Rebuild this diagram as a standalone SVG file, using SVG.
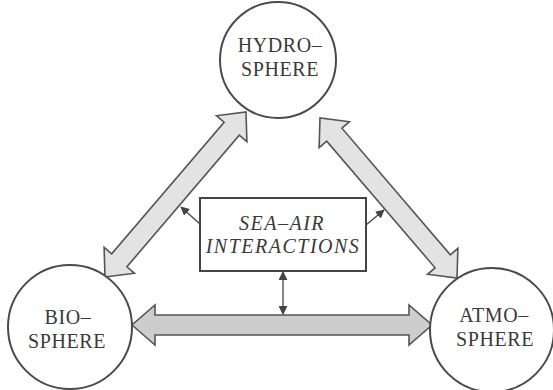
<svg xmlns="http://www.w3.org/2000/svg" width="553" height="390" viewBox="0 0 553 390">
  <defs>
    <style>
      .circ { fill: #ffffff; stroke: #4a4a4a; stroke-width: 2; }
      .lbl { font-family: "Liberation Serif", "Times New Roman", serif; font-size: 20px; letter-spacing: 0.6px; fill: #3a3a3a; text-anchor: middle; }
      .ital { font-style: italic; letter-spacing: 1.5px; }
      .big { stroke: #555555; stroke-width: 1.6; stroke-linejoin: miter; }
      .diag { fill: #e3e3e3; }
      .horiz { fill: #cdcdcd; }
      .thin { stroke: #444444; stroke-width: 1.3; fill: none; }
      .box { fill: #ffffff; stroke: #444444; stroke-width: 2; }
    </style>
    <marker id="ah" viewBox="0 0 10 10" refX="9" refY="5" markerWidth="9" markerHeight="9" markerUnits="userSpaceOnUse" orient="auto-start-reverse">
      <path d="M0,0 L10,5 L0,10 Z" fill="#444444"/>
    </marker>
  </defs>

  <g id="connectors">
    <polygon class="big diag" points="105,277 134.51,273.27 126.90,266.77 239.30,135.23 246.91,141.73 246,112 216.49,115.73 224.10,122.23 111.70,253.77 104.09,247.27"/>
    <polygon class="big diag" points="320,118 319.12,147.72 326.71,141.22 435.09,267.79 427.50,274.30 457,278 457.88,248.28 450.29,254.79 341.91,128.21 349.50,121.70"/>
    <polygon class="big horiz" points="132,325 155,345 155,335 409,335 409,345 432,325 409,305 409,315 155,315 155,305"/>
    <line class="thin" x1="283" y1="272" x2="283" y2="314" marker-start="url(#ah)" marker-end="url(#ah)"/>
    <line class="thin" x1="200" y1="224" x2="181" y2="207" marker-end="url(#ah)"/>
    <line class="thin" x1="366" y1="225" x2="384" y2="210" marker-end="url(#ah)"/>
  </g>

  <g id="hydrosphere">
    <circle class="circ" cx="278" cy="60" r="58"/>
    <text class="lbl" x="280" y="52">HYDRO–</text>
    <text class="lbl" x="280" y="76">SPHERE</text>
  </g>

  <g id="biosphere">
    <circle class="circ" cx="70" cy="327" r="62"/>
    <text class="lbl" x="68" y="324">BIO–</text>
    <text class="lbl" x="67" y="348">SPHERE</text>
  </g>

  <g id="atmosphere">
    <circle class="circ" cx="492" cy="330" r="62"/>
    <text class="lbl" x="494" y="322">ATMO–</text>
    <text class="lbl" x="495" y="346">SPHERE</text>
  </g>

  <g id="sea-air">
    <rect class="box" x="200" y="198" width="166" height="73"/>
    <text class="lbl ital" x="282" y="230">SEA–AIR</text>
    <text class="lbl ital" x="283" y="253">INTERACTIONS</text>
  </g>
</svg>
